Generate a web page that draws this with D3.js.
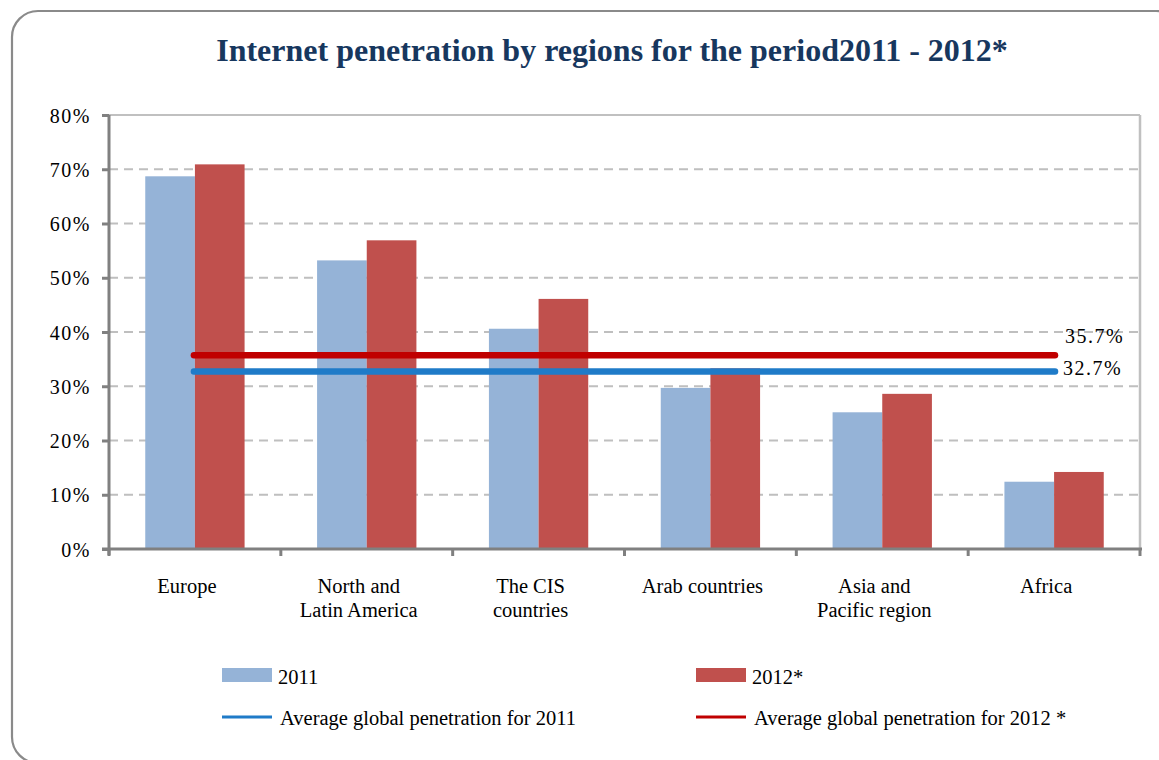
<!DOCTYPE html>
<html>
<head>
<meta charset="utf-8">
<script src="https://cdn.jsdelivr.net/npm/d3@7/dist/d3.min.js"></script>
<style>
  html, body { margin: 0; padding: 0; background: #fff; }
  svg { display: block; }
</style>
</head>
<body>
<svg id="chart" width="1159" height="760"></svg>
<script>
// Regions and their internet penetration (%)
const regions = [
  ["Europe"],
  ["North and", "Latin America"],
  ["The CIS", "countries"],
  ["Arab countries"],
  ["Asia and", "Pacific region"],
  ["Africa"]
];
const values2011 = [68.7, 53.2, 40.6, 29.7, 25.2, 12.4];
const values2012 = [70.9, 56.9, 46.1, 33.3, 28.6, 14.2];
const avg2011 = 32.7;
const avg2012 = 35.7;
const yTicks = [0, 10, 20, 30, 40, 50, 60, 70, 80];
const seriesNames = ["2011", "2012*"];
const avgNames = ["Average global penetration for 2011", "Average global penetration for 2012 *"];

const colors = { b2011: "#95B3D7", b2012: "#C0504D", l2011: "#1F7BC8", l2012: "#C00000" };
const serif = "'Liberation Serif', 'DejaVu Serif', serif";

const svg = d3.select("#chart");

// Rounded outer frame
svg.append("rect")
  .attr("x", 12).attr("y", 11)
  .attr("width", 1170).attr("height", 752)
  .attr("rx", 26).attr("ry", 26)
  .attr("fill", "#fff")
  .attr("stroke", "#8a8a8a").attr("stroke-width", 2.2);

// Title
svg.append("text")
  .attr("x", 612).attr("y", 61)
  .attr("text-anchor", "middle")
  .attr("font-family", serif)
  .attr("font-weight", "bold")
  .attr("font-size", 32)
  .attr("fill", "#17375E")
  .text("Internet penetration by regions for the period2011 - 2012*");

const plot = { left: 109, right: 1140, top: 115, bottom: 549 };

const x = d3.scaleBand()
  .domain(d3.range(regions.length))
  .range([plot.left, plot.right])
  .paddingInner(0).paddingOuter(0);

const inner = d3.scaleBand()
  .domain([0, 1])
  .range([0, x.bandwidth()])
  .paddingOuter(0.73).paddingInner(0);

const y = d3.scaleLinear().domain([0, 80]).range([plot.bottom, plot.top]);

// Plot area border (top and right)
svg.append("line")
  .attr("x1", plot.left).attr("x2", plot.right)
  .attr("y1", plot.top).attr("y2", plot.top)
  .attr("stroke", "#c0c0c0").attr("stroke-width", 2);
svg.append("line")
  .attr("x1", plot.right).attr("x2", plot.right)
  .attr("y1", plot.top).attr("y2", plot.bottom)
  .attr("stroke", "#c0c0c0").attr("stroke-width", 2.5);

// Dashed gridlines
svg.append("g")
  .selectAll("line")
  .data(yTicks.filter(t => t > 0 && t < 80))
  .join("line")
  .attr("x1", plot.left).attr("x2", plot.right - 2)
  .attr("y1", d => y(d)).attr("y2", d => y(d))
  .attr("stroke", "#bfbfbf").attr("stroke-width", 2)
  .attr("stroke-dasharray", "9,6");

// Bars
const groups = svg.append("g").selectAll("g")
  .data(regions.map((r, i) => i))
  .join("g")
  .attr("transform", i => `translate(${x(i)},0)`);

groups.append("rect")
  .attr("x", inner(0)).attr("width", inner.bandwidth())
  .attr("y", i => y(values2011[i]))
  .attr("height", i => y(0) - y(values2011[i]))
  .attr("fill", colors.b2011);

groups.append("rect")
  .attr("x", inner(1)).attr("width", inner.bandwidth())
  .attr("y", i => y(values2012[i]))
  .attr("height", i => y(0) - y(values2012[i]))
  .attr("fill", colors.b2012);

// Y axis
const yAxis = svg.append("g")
  .attr("transform", `translate(${plot.left},0)`)
  .call(d3.axisLeft(y).tickValues(yTicks).tickSize(7).tickPadding(11)
    .tickFormat(d => d + "%"));
yAxis.select(".domain").attr("stroke", "#808080").attr("stroke-width", 3)
  .attr("d", `M0,${plot.top}V${plot.bottom + 6}`);
yAxis.selectAll(".tick line").attr("stroke", "#808080").attr("stroke-width", 3);
yAxis.selectAll(".tick text")
  .attr("font-family", serif).attr("font-size", 20)
  .attr("letter-spacing", 1.5)
  .attr("fill", "#000").attr("dy", "0.35em");

// X axis
const xAxis = svg.append("g")
  .attr("transform", `translate(0,${plot.bottom})`);
xAxis.append("line")
  .attr("x1", plot.left - 7).attr("x2", plot.right + 2)
  .attr("stroke", "#808080").attr("stroke-width", 3);
xAxis.selectAll("line.tk")
  .data(d3.range(regions.length + 1))
  .join("line").attr("class", "tk")
  .attr("x1", i => plot.left + i * x.step())
  .attr("x2", i => plot.left + i * x.step())
  .attr("y1", 0).attr("y2", 7)
  .attr("stroke", "#808080").attr("stroke-width", 3);

// Category labels
const catLabels = svg.append("g").selectAll("text")
  .data(regions.map((r, i) => i))
  .join("text")
  .attr("x", i => x(i) + x.bandwidth() / 2 - 8)
  .attr("y", 593)
  .attr("text-anchor", "middle")
  .attr("font-family", serif).attr("font-size", 20.5)
  .attr("fill", "#000");
catLabels.selectAll("tspan")
  .data(i => regions[i])
  .join("tspan")
  .attr("x", function () { return d3.select(this.parentNode).attr("x"); })
  .attr("dy", (d, k) => k === 0 ? 0 : 24)
  .text(d => d);

// Average lines
const lineStart = x(0) + inner(1) - 1;
const lineEnd = 1055;
[[avg2012, colors.l2012], [avg2011, colors.l2011]].forEach(([v, c]) => {
  svg.append("line")
    .attr("x1", lineStart).attr("x2", lineEnd)
    .attr("y1", y(v)).attr("y2", y(v))
    .attr("stroke", c).attr("stroke-width", 6.5)
    .attr("stroke-linecap", "round");
});

// Average value labels
svg.append("text")
  .attr("x", 1065).attr("y", y(avg2012) - 12)
  .attr("font-family", serif).attr("font-size", 20).attr("letter-spacing", 1.5)
  .attr("fill", "#000").text(avg2012.toFixed(1) + "%");
svg.append("text")
  .attr("x", 1063).attr("y", y(avg2011) + 3)
  .attr("font-family", serif).attr("font-size", 20).attr("letter-spacing", 1.5)
  .attr("fill", "#000").text(avg2011.toFixed(1) + "%");

// Legend
const legend = svg.append("g");
const legX = [222, 696];
const barColors = [colors.b2011, colors.b2012];
const lineColors = [colors.l2011, colors.l2012];
seriesNames.forEach((name, k) => {
  legend.append("rect")
    .attr("x", legX[k]).attr("y", 668)
    .attr("width", 50).attr("height", 14)
    .attr("fill", barColors[k]);
  legend.append("text")
    .attr("x", legX[k] + 56).attr("y", 684)
    .attr("font-family", serif).attr("font-size", 20.5)
    .attr("fill", "#000").text(name);
});
avgNames.forEach((name, k) => {
  legend.append("line")
    .attr("x1", legX[k]).attr("x2", legX[k] + 50)
    .attr("y1", 717).attr("y2", 717)
    .attr("stroke", lineColors[k]).attr("stroke-width", 3);
  legend.append("text")
    .attr("x", legX[k] + 58).attr("y", 725)
    .attr("font-family", serif).attr("font-size", 20.5)
    .attr("fill", "#000").text(name);
});
</script>
</body>
</html>
